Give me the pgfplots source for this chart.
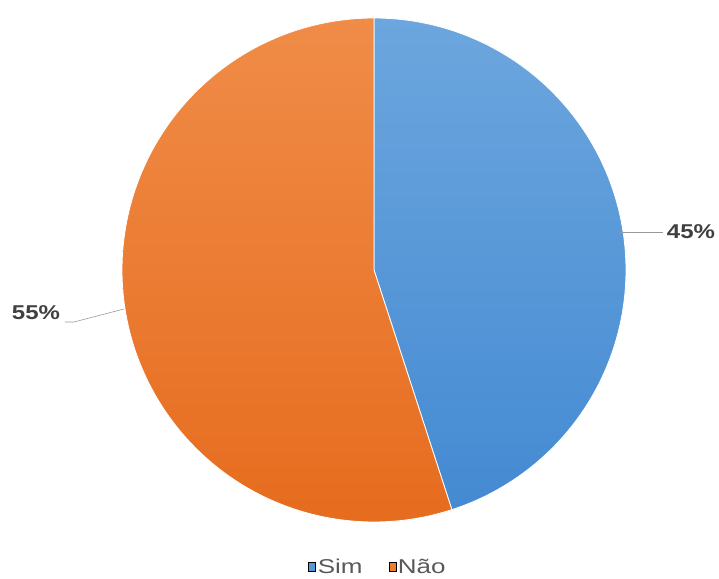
\documentclass[border=0pt]{standalone}
\usepackage{pgfplots}
\pgfplotsset{compat=1.18}
\usepackage{fontspec}
\setmainfont{Liberation Sans}
\definecolor{bluetop}{RGB}{108,166,222}
\definecolor{bluebot}{RGB}{68,138,210}
\definecolor{orangetop}{RGB}{240,140,72}
\definecolor{orangebot}{RGB}{230,108,30}
\definecolor{simblue}{RGB}{84,152,216}
\definecolor{naoorange}{RGB}{236,125,49}
\definecolor{labelgray}{RGB}{64,64,64}
\definecolor{legendgray}{RGB}{89,89,89}
\begin{document}
\begin{tikzpicture}
\pgfmathsetmacro{\valSim}{45}
\pgfmathsetmacro{\valNao}{55}
\pgfmathsetmacro{\angSim}{90-3.6*\valSim}
\pgfmathsetmacro{\angNao}{\angSim+360}
\begin{axis}[x=1pt,y=1pt,xmin=-374,xmax=345,ymin=-309,ymax=270,
  hide axis, clip=false,
  legend style={at={(axis cs:4,-297)}, anchor=center, draw=none, fill=none,
    legend columns=2, font=\fontsize{20}{22}\selectfont, text=legendgray,
    /tikz/every even column/.append style={column sep=24pt},
    inner sep=0pt},
  legend image code/.code={\fill[#1] (0pt,-4.5pt) rectangle (7pt,4.5pt);},
]
\path (axis cs:-374,-309) rectangle (axis cs:345,270);
\addplot[forget plot, draw=white, line width=0.8pt, top color=bluetop, bottom color=bluebot,
  domain=\angSim:90, samples=181] ({252*cos(x)},{252*sin(x)}) -- (axis cs:0,0) -- cycle;
\addplot[forget plot, draw=white, line width=0.8pt, top color=orangetop, bottom color=orangebot,
  domain=90:\angNao, samples=181] ({252*cos(x)},{252*sin(x)}) -- (axis cs:0,0) -- cycle;
\addplot[forget plot, color=gray!80, line width=0.6pt] coordinates {(246,38) (289,38)};
\addplot[forget plot, color=gray!80, line width=0.6pt] coordinates {(-309,-52) (-300,-52) (-250,-39)};
\node[font=\bfseries\fontsize{20}{22}\selectfont, text=labelgray, xscale=1.2] at (axis cs:317,38) {45\%};
\node[font=\bfseries\fontsize{20}{22}\selectfont, text=labelgray, xscale=1.2] at (axis cs:-338,-43) {55\%};
\addlegendimage{fill=simblue}
\addlegendentry{\scalebox{1.3}[1]{Sim}}
\addlegendimage{fill=naoorange}
\addlegendentry{\scalebox{1.3}[1]{Não}}
\end{axis}
\end{tikzpicture}
\end{document}
